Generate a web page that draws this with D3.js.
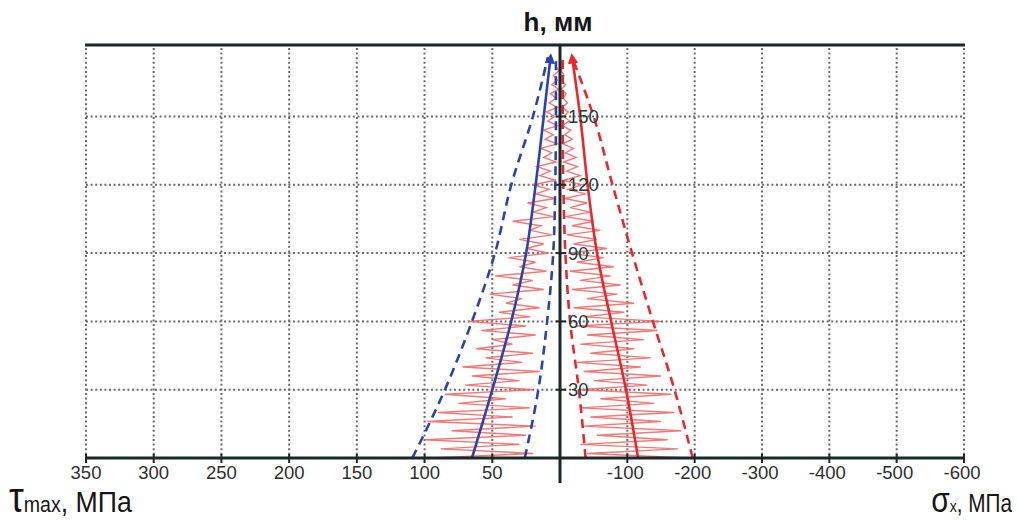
<!DOCTYPE html>
<html>
<head>
<meta charset="utf-8">
<script src="https://cdn.jsdelivr.net/npm/d3@7"></script>
<style>
  html, body { margin: 0; padding: 0; background: #fff; }
  svg { display: block; }
  text { font-family: "Liberation Sans", Arial, sans-serif; }
</style>
</head>
<body>
<svg id="chart" width="1018" height="520"></svg>
<script>
// Tick values for the two half-axes
const tauTicks = [350, 300, 250, 200, 150, 100, 50];
const sigmaTicks = [-100, -200, -300, -400, -500, -600];
const hTicks = [30, 60, 90, 120, 150];

// Envelope curves: h (mm) and stress (MPa)
const envH = [0, 30, 60, 90, 120, 150, 176];
const tauMean = [65, 50, 36, 25, 18, 12, 7];
const tauUpper = [109, 85, 65, 48, 36, 20, 9];
const tauLower = [26, 16, 9.5, 5, 3.5, 3, 3];
const sigmaMean = [-116, -98, -76, -55, -41, -30, -18];
const sigmaUpper = [-197, -170, -138, -107, -78, -50, -18];
const sigmaLower = [-38, -28, -15, -8, -5, -4, -4];

// Measured traces sampled every 2 mm of h
const traceH = [0,2,4,6,8,10,12,14,16,18,20,22,24,26,28,30,32,34,36,38,40,42,44,46,48,50,52,54,56,58,60,62,64,66,68,70,72,74,76,78,80,82,84,86,88,90,92,94,96,98,100,102,104,106,108,110,112,114,116,118,120,122,124,126,128,130,132,134,136,138,140,142,144,146,148,150,152,154,156,158,160,162,164,166,168,170,172];
const tauTrace = [95,20,88,30,100,25,80,18,98,35,90,22,75,40,85,20,70,30,65,15,72,28,55,20,62,35,50,18,58,25,68,22,45,15,40,28,52,12,35,20,48,10,30,18,38,8,25,12,30,6,22,14,35,5,20,10,24,4,18,8,20,3,15,7,17,3,12,6,14,2,11,5,12,2,9,4,10,2,8,3,7,1,6,2,5,1,3];
const sigmaTrace = [-190,-40,-175,-30,-160,-55,-180,-35,-150,-45,-170,-30,-140,-60,-165,-28,-130,-50,-150,-35,-120,-25,-135,-45,-110,-30,-125,-40,-145,-25,-150,-35,-95,-20,-110,-40,-85,-18,-90,-30,-75,-15,-80,-25,-65,-12,-70,-20,-55,-10,-60,-18,-50,-8,-45,-15,-40,-7,-38,-12,-32,-5,-30,-10,-26,-5,-24,-8,-20,-4,-18,-7,-16,-3,-14,-6,-12,-3,-11,-5,-9,-2,-8,-3,-6,-2,-4];

const svg = d3.select("#chart");

const x0 = 560, xL = 86, xR = 964, yBase = 458, yTop = 45;
const xTau = d3.scaleLinear().domain([0, 350]).range([x0, xL]);
const xSig = d3.scaleLinear().domain([0, -600]).range([x0, xR]);
const y = d3.scaleLinear().domain([0, 181.4]).range([yBase, yTop]);

const RED = "#e8282c", BLUE = "#2b44ad", AXIS = "#1c2727";

// Dotted grid
const grid = svg.append("g").attr("stroke", "#6a6a6a").attr("stroke-width", 2)
  .attr("stroke-dasharray", "2,2.6").attr("fill", "none");
tauTicks.forEach(v => grid.append("line")
  .attr("x1", xTau(v)).attr("x2", xTau(v)).attr("y1", yTop + 3).attr("y2", yBase));
sigmaTicks.forEach(v => grid.append("line")
  .attr("x1", xSig(v)).attr("x2", xSig(v)).attr("y1", yTop + 3).attr("y2", yBase));
hTicks.forEach(v => grid.append("line")
  .attr("x1", xL).attr("x2", xR).attr("y1", y(v)).attr("y2", y(v)));

// Arrow marker for the mean curves
const defs = svg.append("defs");
[["arrRed", RED], ["arrBlue", BLUE]].forEach(([id, c]) => {
  defs.append("marker").attr("id", id).attr("viewBox", "0 0 10 10")
    .attr("refX", 6).attr("refY", 5).attr("markerWidth", 4).attr("markerHeight", 4)
    .attr("orient", "auto").attr("markerUnits", "strokeWidth")
    .append("path").attr("d", "M0,0 L10,5 L0,10 z").attr("fill", c);
});

const lineTau = d3.line().x(d => xTau(d[1])).y(d => y(d[0])).curve(d3.curveMonotoneY);
const lineSig = d3.line().x(d => xSig(d[1])).y(d => y(d[0])).curve(d3.curveMonotoneY);
const lineRawTau = d3.line().x(d => xTau(d[1])).y(d => y(d[0]));
const lineRawSig = d3.line().x(d => xSig(d[1])).y(d => y(d[0]));
const zip = (hs, vs) => hs.map((h, i) => [h, vs[i]]);

// Measured traces
svg.append("path").attr("d", lineRawTau(zip(traceH, tauTrace)))
  .attr("fill", "none").attr("stroke", "#f06a6a").attr("stroke-width", 1.4).attr("stroke-opacity", 0.9);
svg.append("path").attr("d", lineRawSig(zip(traceH, sigmaTrace)))
  .attr("fill", "none").attr("stroke", "#f06a6a").attr("stroke-width", 1.4).attr("stroke-opacity", 0.9);

// Bounds (dashed)
[[lineTau, tauUpper, BLUE], [lineTau, tauLower, BLUE], [lineSig, sigmaUpper, RED], [lineSig, sigmaLower, RED]]
  .forEach(([ln, vals, c]) => svg.append("path").attr("d", ln(zip(envH, vals)))
    .attr("fill", "none").attr("stroke", c).attr("stroke-width", 2.6).attr("stroke-dasharray", "9,6"));

// Mean curves (solid)
svg.append("path").attr("d", lineTau(zip(envH, tauMean)))
  .attr("fill", "none").attr("stroke", BLUE).attr("stroke-width", 2.6).attr("marker-end", "url(#arrBlue)");
svg.append("path").attr("d", lineSig(zip(envH, sigmaMean)))
  .attr("fill", "none").attr("stroke", RED).attr("stroke-width", 2.6).attr("marker-end", "url(#arrRed)");

// Axes frame
svg.append("line").attr("x1", xL - 1).attr("x2", xR + 1).attr("y1", yTop).attr("y2", yTop)
  .attr("stroke", AXIS).attr("stroke-width", 3.2);
svg.append("line").attr("x1", xL - 1).attr("x2", xR + 1).attr("y1", yBase).attr("y2", yBase)
  .attr("stroke", AXIS).attr("stroke-width", 3.2);
svg.append("line").attr("x1", x0).attr("x2", x0).attr("y1", yTop).attr("y2", 483)
  .attr("stroke", AXIS).attr("stroke-width", 3);

// Bottom axis ticks and labels
const tickG = svg.append("g");
const bottomTicks = tauTicks.map(v => [xTau(v), String(v)])
  .concat(sigmaTicks.map(v => [xSig(v), String(v)]));
bottomTicks.forEach(([px, t]) => {
  tickG.append("line").attr("x1", px).attr("x2", px).attr("y1", yBase - 4).attr("y2", yBase + 5)
    .attr("stroke", AXIS).attr("stroke-width", 2);
  tickG.append("text").attr("x", px - (t.startsWith("-") ? 2 : 0)).attr("y", 478.5).attr("text-anchor", "middle")
    .attr("font-size", 18.5).attr("fill", "#2e2e2e").text(t);
});

// h-axis ticks and labels
hTicks.forEach(v => {
  tickG.append("line").attr("x1", x0 - 4).attr("x2", x0 + 6).attr("y1", y(v)).attr("y2", y(v))
    .attr("stroke", AXIS).attr("stroke-width", 2);
  tickG.append("text").attr("x", x0 + 8).attr("y", y(v) + 6.5).attr("font-size", 18.5)
    .attr("fill", "#213a3b").text(v);
});

// Axis titles
svg.append("text").attr("x", 558).attr("y", 31).attr("text-anchor", "middle")
  .attr("font-size", 26).attr("font-weight", "bold").attr("fill", "#151515").text("h, мм");

// Condensed unit labels
const tl = svg.append("g").attr("transform", "translate(9,512) scale(0.89,1)")
  .append("text").attr("x", 0).attr("y", 0).attr("fill", "#151515");
tl.append("tspan").attr("font-size", 42).text("τ");
tl.append("tspan").attr("font-size", 22).text("max");
tl.append("tspan").attr("font-size", 30).text(", МПа");

const tr = svg.append("g").attr("transform", "translate(1012,512) scale(0.83,1)")
  .append("text").attr("x", 0).attr("y", 0).attr("text-anchor", "end").attr("fill", "#151515");
tr.append("tspan").attr("font-size", 36).text("σ");
tr.append("tspan").attr("font-size", 17).text("x");
tr.append("tspan").attr("font-size", 25).text(", МПа");
</script>
</body>
</html>
